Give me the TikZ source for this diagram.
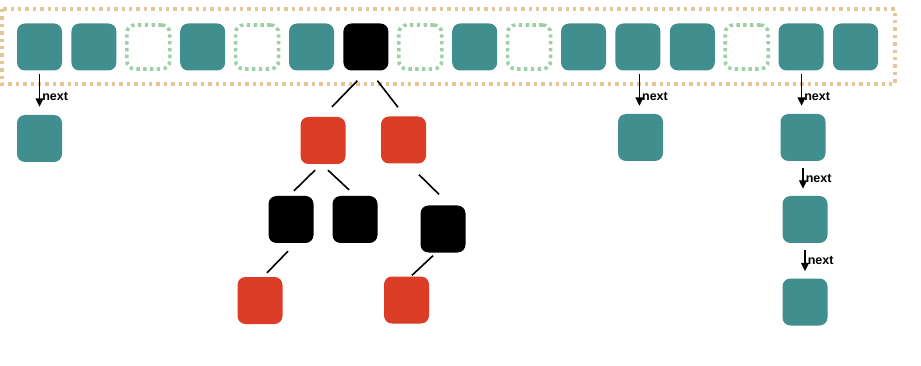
\documentclass[tikz,border=0pt]{standalone}
\usepackage{fontspec}
\setmainfont{Liberation Sans}
\usetikzlibrary{arrows.meta,calc}
\definecolor{teal1}{HTML}{408E8E}
\definecolor{red1}{HTML}{DC3D26}
\definecolor{green1}{HTML}{9FCFA5}
\definecolor{orange1}{HTML}{E5C796}
\tikzset{
  box/.style={rectangle, rounded corners=8pt, minimum width=45pt, minimum height=47pt, inner sep=0pt},
  tbox/.style={box, fill=teal1},
  rbox/.style={box, fill=red1},
  bbox/.style={box, fill=black},
  dbox/.style={box, draw=green1, line width=3.6pt, dash pattern=on 3.4pt off 3.4pt, minimum width=43pt, minimum height=44pt},
  arr/.style={-{Triangle[length=8.5pt,width=8pt]}, line width=1.5pt, black},
  nextlbl/.style={font=\bfseries\fontsize{12.5}{14}\selectfont, anchor=west, inner sep=1pt, xshift=1pt},
  tline/.style={line width=1.6pt, black},
}
\begin{document}
\begin{tikzpicture}[x=1pt,y=-1pt]
\useasboundingbox (0,0) rectangle (921,366);
% outer dotted frame
\draw[draw=orange1, line width=3.6pt, dash pattern=on 3.4pt off 4pt] (2,9) rectangle (895,84);
% top row
\foreach \k/\s in {1/tbox,2/tbox,3/dbox,4/tbox,5/dbox,6/tbox,7/bbox,8/dbox,9/tbox,10/dbox,11/tbox,12/tbox,13/tbox,14/dbox,15/tbox,16/tbox}{
  \node[\s] (t\k) at ({39.5+54.4*(\k-1)},47) {};
}
% linked lists
\node[tbox] (n1) at (39.5,138.5) {};
\node[tbox] (n2) at (640.5,137.5) {};
\node[tbox] (n3) at (803,137.5) {};
\node[tbox] (n4) at (805,219.5) {};
\node[tbox] (n5) at (805,302) {};
\draw[arr] ([yshift=-3pt]t1.south) -- ([yshift=8pt]t1.south |- n1.north) node[nextlbl, pos=0.7] {next};
\draw[arr] ([xshift=1.5pt,yshift=-3pt]t12.south) -- ([xshift=1.5pt,yshift=8pt]t12.south |- n2.north) node[nextlbl, pos=0.7] {next};
\draw[arr] ([xshift=0.5pt,yshift=-3pt]t15.south) -- ([xshift=0.5pt,yshift=8pt]t15.south |- n3.north) node[nextlbl, pos=0.7] {next};
\draw[arr] ([yshift=-7pt]n3.south) -- ([yshift=7pt]n3.south |- n4.north) node[nextlbl, pos=0.5] {next};
\draw[arr] ([yshift=-7pt]n4.south) -- ([yshift=7pt]n4.south |- n5.north) node[nextlbl, pos=0.5] {next};
% tree
\node[rbox] (r1) at (323,140.5) {};
\node[rbox] (r2) at (403.5,140) {};
\node[bbox] (b1) at (291,219.5) {};
\node[bbox] (b2) at (355,219.5) {};
\node[bbox] (b3) at (443,229) {};
\node[rbox] (r3) at (260,300.5) {};
\node[rbox] (r4) at (406.5,300) {};
\draw[tline] ([shift={(-8.5,10)}]t7.south) -- ([shift={(9,-10)}]r1.north);
\draw[tline] ([shift={(11.5,10)}]t7.south) -- ([shift={(-5.5,-9)}]r2.north);
\draw[tline] ([shift={(-8,6)}]r1.south) -- ([shift={(3,-5)}]b1.north);
\draw[tline] ([shift={(5,6)}]r1.south) -- ([shift={(-6,-6)}]b2.north);
\draw[tline] ([shift={(15.5,11)}]r2.south) -- ([shift={(-4,-11)}]b3.north);
\draw[tline] ([shift={(-3,8)}]b1.south) -- ([shift={(7,-4)}]r3.north);
\draw[tline] ([shift={(-10,3)}]b3.south) -- ([shift={(5.5,-1)}]r4.north);
\end{tikzpicture}
\end{document}
